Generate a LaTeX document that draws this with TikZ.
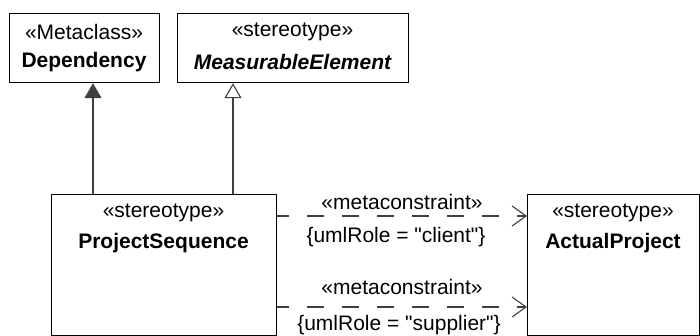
\documentclass[tikz,border=0pt]{standalone}
\usepackage{fontspec}
\setmainfont{Liberation Sans}[Ligatures=TeXOff]
\usetikzlibrary{arrows.meta}
\definecolor{linegray}{HTML}{404040}
\tikzset{
  box/.style={draw=black, line width=1.2pt, fill=white, inner sep=0pt, anchor=north west},
  txt/.style={inner sep=0pt, font=\fontsize{21}{25}\selectfont, text=black},
  conn/.style={draw=linegray, line width=1.1pt},
  inh/.style={conn, -{Triangle[length=15pt, width=17pt, fill=linegray]}},
  gen/.style={conn, -{Triangle[open, length=15pt, width=17pt, fill=white]}},
  dep/.style={conn, dash pattern=on 17pt off 18pt, dash phase=5pt, -{Straight Barb[length=14pt, width=20pt, line width=1.1pt]}}
}
\begin{document}
\begin{tikzpicture}[x=1pt, y=-1pt]
\useasboundingbox (0,0) rectangle (700,335);
% boxes
\node[box, minimum width=150pt, minimum height=69pt] (dep) at (9,13) {};
\node[box, minimum width=231pt, minimum height=69pt] (me) at (177,13) {};
\node[box, minimum width=225pt, minimum height=141pt] (ps) at (51,194) {};
\node[box, minimum width=172pt, minimum height=141pt] (ap) at (527,194) {};
% texts
\node[txt] (dep1) at (84,32) {«Metaclass»};
\node[txt] (dep2) at (84,62) {\bfseries Dependency};
\node[txt] (me1) at (292.5,32) {«stereotype»};
\node[txt] (me2) at (292.5,62) {\bfseries\itshape MeasurableElement};
\node[txt] (ps1) at (163.5,213) {«stereotype»};
\node[txt] (ps2) at (163.5,243) {\bfseries ProjectSequence};
\node[txt] (ap1) at (613,213) {«stereotype»};
\node[txt] (ap2) at (613,243) {\bfseries ActualProject};
% connectors
\coordinate (c1) at (93,0);
\coordinate (c2) at (233,0);
\draw[inh] (c1 |- ps.north) -- (c1 |- dep.south);
\draw[gen] (c2 |- ps.north) -- (c2 |- me.south);
\coordinate (r1) at (0,216);
\coordinate (r2) at (0,307);
\draw[dep] (r1 -| ps.east) -- (r1 -| ap.west);
\draw[dep] (r2 -| ps.east) -- (r2 -| ap.west);
% labels
\node[txt] (l1a) at (402,202) {«metaconstraint»};
\node[txt] (l1b) at (396,237) {\{umlRole = "client"\}};
\node[txt] (l2a) at (402,287) {«metaconstraint»};
\node[txt] (l2b) at (399,325) {\{umlRole = "supplier"\}};
\end{tikzpicture}
\end{document}
